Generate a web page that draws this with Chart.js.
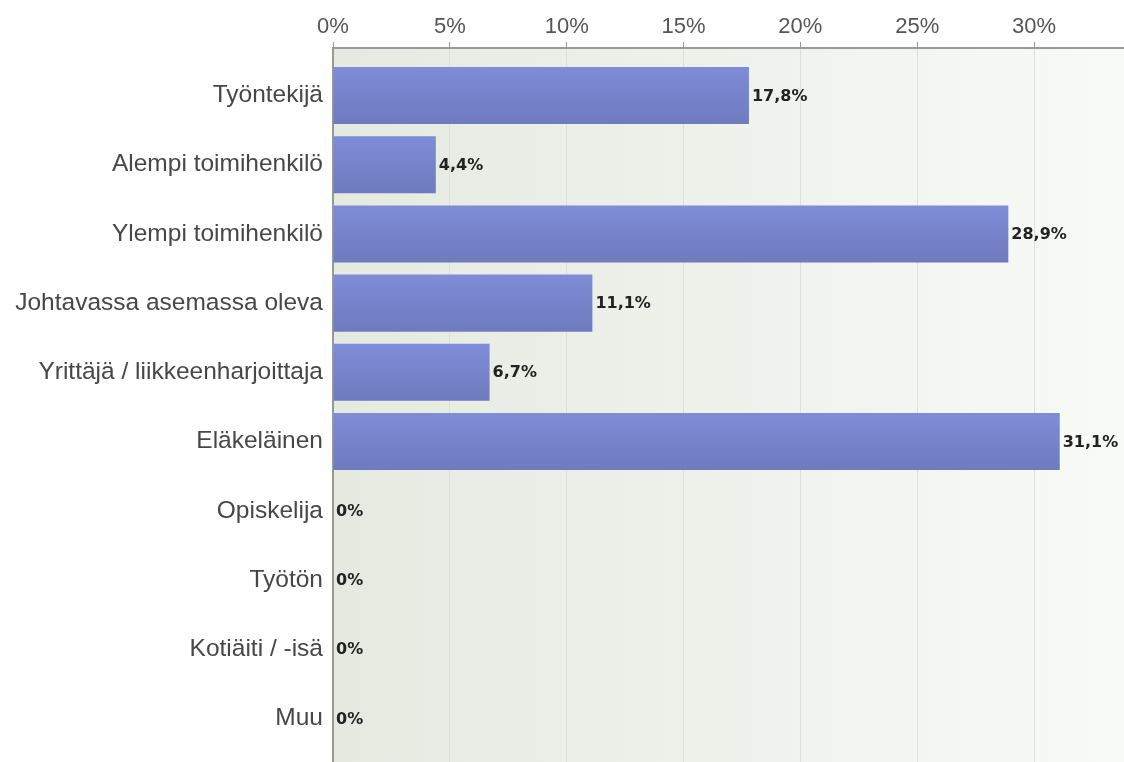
<!DOCTYPE html>
<html>
<head>
<meta charset="utf-8">
<script src="https://cdn.jsdelivr.net/npm/chart.js@4/dist/chart.umd.min.js"></script>
<style>
  body { margin: 0; background: #fff; }
  #wrap { width: 1124px; height: 762px; }
</style>
</head>
<body>
<div id="wrap"><canvas id="chart1" width="1124" height="762"></canvas></div>
<script>
// data
var categories = ['Työntekijä', 'Alempi toimihenkilö', 'Ylempi toimihenkilö', 'Johtavassa asemassa oleva',
                  'Yrittäjä / liikkeenharjoittaja', 'Eläkeläinen', 'Opiskelija', 'Työtön', 'Kotiäiti / -isä', 'Muu'];
var shares = [17.8, 4.4, 28.9, 11.1, 6.7, 31.1, 0, 0, 0, 0];
var xTicks = [0, 5, 10, 15, 20, 25, 30];

var points = [];
for (var i = 0; i < shares.length; i++) {
    points.push({x: shares[i], y: i});
}

function fmt(v) {
    if (v == 0) return '0%';
    return v.toFixed(1).replace('.', ',') + '%';
}

// plot area background, light grey-green fading to white
var plotBg = {
    id: 'plotBg',
    beforeDraw: function(chart) {
        var a = chart.chartArea;
        if (!a) return;
        var c = chart.ctx;
        var g = c.createLinearGradient(a.left, 0, a.right, 0);
        g.addColorStop(0, '#e5eae1');
        g.addColorStop(1, '#f8faf6');
        c.save();
        c.fillStyle = g;
        c.fillRect(a.left, a.top, a.right - a.left, a.bottom - a.top);
        c.restore();
    }
};

// value text at the end of each bar
var barText = {
    id: 'barText',
    afterDatasetsDraw: function(chart) {
        var c = chart.ctx;
        var meta = chart.getDatasetMeta(0);
        c.save();
        c.font = 'bold 16px "DejaVu Sans"';
        c.fillStyle = '#222';
        c.textBaseline = 'middle';
        c.textAlign = 'left';
        meta.data.forEach(function(bar, idx) {
            c.fillText(fmt(shares[idx]), bar.x + 3, bar.y + 1);
        });
        c.restore();
    }
};

var ctx = document.getElementById('chart1').getContext('2d');
var mychart = new Chart(ctx, {
    type: 'bar',
    data: {
        datasets: [{
            data: points,
            backgroundColor: function(context) {
                var y = context.chart.scales.y;
                if (!y || !context.raw) return '#7684cc';
                var yc = y.getPixelForValue(context.raw.y);
                if (!isFinite(yc)) return '#7684cc';
                var g = context.chart.ctx.createLinearGradient(0, yc - 28, 0, yc + 28);
                g.addColorStop(0, '#7f8cd8');
                g.addColorStop(1, '#6e7bbd');
                return g;
            },
            borderWidth: 0,
            categoryPercentage: 1,
            barPercentage: 0.824
        }]
    },
    options: {
        indexAxis: 'y',
        responsive: false,
        animation: false,
        layout: { padding: 0 },
        plugins: {
            legend: { display: false },
            tooltip: { enabled: false }
        },
        scales: {
            x: {
                type: 'linear',
                position: 'top',
                min: 0,
                max: 33.85,
                afterFit: function(scale) { scale.height = 48; },
                afterBuildTicks: function(scale) {
                    scale.ticks = xTicks.map(function(v) { return {value: v}; });
                },
                ticks: {
                    padding: 2,
                    color: '#555',
                    font: { family: '"Liberation Sans"', size: 22 },
                    callback: function(v) { return v + '%'; }
                },
                grid: {
                    color: '#dcdfda',
                    lineWidth: 1,
                    tickLength: 6,
                    tickColor: '#999'
                },
                border: { display: true, color: '#999', width: 2 }
            },
            y: {
                type: 'linear',
                reverse: true,
                offset: false,
                min: -0.686,
                max: 9.63,
                afterFit: function(scale) {
                    scale.width = 333;
                    scale.paddingTop = 0;
                    scale.paddingBottom = 0;
                },
                afterBuildTicks: function(scale) {
                    scale.ticks = categories.map(function(c, i) { return {value: i}; });
                },
                ticks: {
                    padding: 10,
                    color: '#474747',
                    font: { family: '"Liberation Sans"', size: 24.5 },
                    callback: function(v) { return categories[v]; }
                },
                grid: { display: false, drawTicks: false },
                border: { display: true, color: '#999', width: 2 }
            }
        }
    },
    plugins: [plotBg, barText]
});
</script>
</body>
</html>
